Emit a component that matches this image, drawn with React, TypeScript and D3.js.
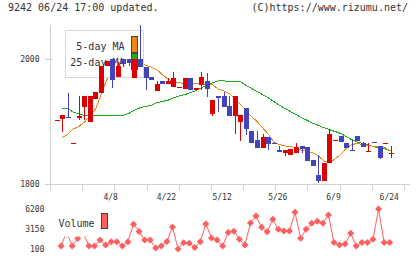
import React, { useEffect, useRef } from 'react';
import * as d3 from 'd3';

// header texts
const title = '9242 06/24 17:00 updated.';
const credit = '(C)https://www.rizumu.net/';

// daily prices, day 0 .. day 60
const openP = [1902, 1904, 1907, 1865, 1905, 1923, 1900, 1936, 1946, 1989,
  2000, 1971, 2000, 2000, 1969, 2000, 1987, 1971, 1949, 1965,
  1960, 1955, 1955, 1952, 1970, 1950, 1958, 1965, 1912, 1941,
  1941, 1925, 1909, 1900, 1922, 1885, 1870, 1857, 1876, 1866,
  1854, 1849, 1846, 1849, 1861, 1860, 1838, 1814, 1805, 1833,
  1869, 1877, 1865, 1855, 1877, 1865, 1852, 1867, 1861, 1864, 1848];
const highP = [1903, 1910, 1946, 1866, 1941, 1941, 1941, 1948, 1989, 1997,
  2000, 1995, 2000, 2000, 2000, 2054, 1987, 1971, 1965, 1965,
  1970, 1979, 1956, 1970, 1970, 1954, 1979, 1978, 1934, 1941,
  1948, 1941, 1941, 1910, 1922, 1885, 1885, 1880, 1876, 1866,
  1861, 1854, 1856, 1866, 1861, 1860, 1838, 1846, 1833, 1888,
  1870, 1877, 1865, 1870, 1877, 1868, 1866, 1867, 1861, 1865, 1861];
const lowP = [1902, 1884, 1905, 1865, 1902, 1902, 1900, 1936, 1946, 1989,
  1953, 1971, 1988, 1989, 1969, 1987, 1950, 1966, 1949, 1960,
  1960, 1955, 1955, 1952, 1950, 1950, 1950, 1940, 1909, 1916,
  1924, 1909, 1880, 1869, 1878, 1865, 1857, 1857, 1854, 1864,
  1851, 1845, 1846, 1849, 1849, 1837, 1829, 1802, 1805, 1833,
  1869, 1868, 1857, 1854, 1869, 1860, 1852, 1865, 1840, 1864, 1841];
const closeP = [1903, 1910, 1905, 1866, 1909, 1941, 1941, 1948, 1989, 1997,
  1966, 1989, 1992, 1994, 2000, 1987, 1969, 1966, 1960, 1960,
  1965, 1970, 1956, 1970, 1950, 1954, 1972, 1952, 1934, 1938,
  1924, 1909, 1941, 1910, 1888, 1865, 1857, 1876, 1864, 1864,
  1851, 1854, 1856, 1860, 1856, 1837, 1829, 1805, 1833, 1880,
  1870, 1868, 1857, 1854, 1869, 1860, 1853, 1865, 1842, 1865, 1849];

// moving averages as drawn (no value on day 0)
const ma5 = [null, 1874, 1879, 1888, 1892, 1899, 1909, 1920, 1942, 1966,
  1984, 1992, 1996, 1997, 1996, 1995, 1990, 1987, 1983, 1975,
  1968, 1964, 1962, 1961, 1961, 1961, 1960, 1960, 1959, 1952,
  1949, 1945, 1936, 1928, 1918, 1908, 1900, 1890, 1880, 1867,
  1863, 1861, 1860, 1858, 1854, 1852, 1850, 1845, 1837, 1834,
  1840, 1847, 1857, 1863, 1865, 1863, 1862, 1860, 1859, 1858, 1853];
const ma25 = [null, 1921, 1921, 1915, 1912, 1910, 1910, 1910, 1910, 1910,
  1910, 1910, 1910, 1913, 1918, 1922, 1924, 1926, 1930, 1932,
  1934, 1938, 1941, 1943, 1946, 1949, 1954, 1958, 1962, 1965,
  1965, 1964, 1964, 1964, 1958, 1953, 1948, 1943, 1938, 1932,
  1926, 1921, 1916, 1911, 1906, 1902, 1897, 1894, 1890, 1887,
  1884, 1881, 1876, 1871, 1867, 1865, 1862, 1860, 1857, 1856, 1853];

// volume (no value on day 0)
const volume = [null, 560, 2690, 560, 1700, 2540, 560, 560, 1470, 710, 1210,
  1210, 560, 1210, 3880, 2770, 1470, 1470, 250, 560, 1240,
  3450, 100, 1060, 970, 330, 1210, 3910, 1780, 1470, 560,
  2620, 2810, 1590, 710, 4070, 5130, 3410, 2740, 4640, 3100,
  2850, 2850, 5700, 1730, 3100, 4020, 4320, 4020, 5290, 1090,
  710, 860, 2490, 560, 1090, 1090, 1590, 6200, 1090, 1090];

const dateLabels = ['4/8', '4/22', '5/12', '5/26', '6/9', '6/24'];
const dateLabelDays = [10, 20, 30, 40, 50, 60];
const priceTicks = [1800, 2000];
const volumeTicks = [100, 3150, 6200];

const App = () => {
  const ref = useRef<SVGSVGElement>(null);

  useEffect(() => {
    const svg = d3.select(ref.current);
    svg.selectAll('*').remove();

    const font = 'DejaVu Sans Mono, monospace';
    const red = '#dd0000';
    const blue = '#4343bb';
    const orange = '#ee8811';
    const green = '#22aa22';
    const volColor = '#ff5e5e';
    const days = d3.range(openP.length);

    // scales
    const x = d3.scaleLinear().domain([0, 60]).range([56.5, 390.7]);
    const y = d3.scaleLinear().domain([1800, 2000]).range([184, 59]);
    const yVol = d3.scaleLinear().domain([100, 6200]).range([249, 209]);
    const grid = d3.scaleLinear().domain([0, 11]).range([50, 404]);

    // header
    svg.append('text').attr('x', 8).attr('y', 11)
      .attr('font-family', font).attr('font-size', 10).attr('fill', '#333')
      .text(title);
    svg.append('text').attr('x', 408).attr('y', 11).attr('text-anchor', 'end')
      .attr('font-family', font).attr('font-size', 10).attr('fill', '#333')
      .text(credit);

    // axes
    const axis = svg.append('g').attr('stroke', '#d0d0d0').attr('shape-rendering', 'crispEdges');
    axis.append('line').attr('x1', 50.5).attr('x2', 50.5).attr('y1', 25).attr('y2', 190);
    axis.append('line').attr('x1', 45).attr('x2', 410).attr('y1', 184.5).attr('y2', 184.5);
    axis.selectAll('.vt').data(d3.range(12)).enter().append('line')
      .attr('x1', i => Math.round(grid(i)) + 0.5).attr('x2', i => Math.round(grid(i)) + 0.5)
      .attr('y1', 184).attr('y2', 190);
    axis.selectAll('.ht').data(priceTicks).enter().append('line')
      .attr('x1', 45).attr('x2', 53).attr('y1', d => Math.round(y(d)) + 0.5).attr('y2', d => Math.round(y(d)) + 0.5);

    svg.append('g').selectAll('text').data(priceTicks).enter().append('text')
      .attr('x', 39.5).attr('y', d => y(d) + 3).attr('text-anchor', 'end')
      .attr('font-family', font).attr('font-size', 8).attr('fill', '#333')
      .text(d => d);

    svg.append('g').selectAll('text').data(dateLabels).enter().append('text')
      .attr('x', (d, i) => x(dateLabelDays[i]) - 1.5).attr('y', 200).attr('text-anchor', 'middle')
      .attr('font-family', font).attr('font-size', 8).attr('fill', '#333')
      .text(d => d);

    svg.append('g').selectAll('text').data(volumeTicks).enter().append('text')
      .attr('x', 44.5).attr('y', d => yVol(d) + 3).attr('text-anchor', 'end')
      .attr('font-family', font).attr('font-size', 8).attr('fill', '#333')
      .text(d => d);

    // moving averages
    const maLine = (arr: (number | null)[]) => d3.line<number>()
      .defined(i => arr[i] != null)
      .x(i => x(i))
      .y(i => y(arr[i] as number));
    svg.append('path').attr('d', maLine(ma25)(days)).attr('fill', 'none')
      .attr('stroke', green).attr('stroke-width', 1).attr('shape-rendering', 'crispEdges');
    svg.append('path').attr('d', maLine(ma5)(days)).attr('fill', 'none')
      .attr('stroke', orange).attr('stroke-width', 1).attr('shape-rendering', 'crispEdges');

    // legend
    const legend = svg.append('g');
    legend.append('rect').attr('x', 65.5).attr('y', 30.5).attr('width', 78).attr('height', 47)
      .attr('fill', '#fff').attr('stroke', '#d8d8d8');
    legend.append('text').attr('x', 124.5).attr('y', 49.5).attr('text-anchor', 'end')
      .attr('font-family', font).attr('font-size', 10).attr('fill', '#333').text('5-day MA');
    legend.append('text').attr('x', 124.5).attr('y', 66).attr('text-anchor', 'end')
      .attr('font-family', font).attr('font-size', 10).attr('fill', '#333').text('25-day MA');
    legend.append('rect').attr('x', 131.5).attr('y', 36.5).attr('width', 6).attr('height', 16)
      .attr('fill', orange).attr('stroke', '#444');
    legend.append('rect').attr('x', 131.5).attr('y', 53.5).attr('width', 6).attr('height', 16)
      .attr('fill', green).attr('stroke', '#444');

    // candles
    const candles = svg.append('g').attr('shape-rendering', 'crispEdges');
    const col = (i: number) => closeP[i] >= openP[i] ? red : blue;
    candles.selectAll('line').data(days).enter().append('line')
      .attr('x1', i => Math.round(x(i)) + 0.5).attr('x2', i => Math.round(x(i)) + 0.5)
      .attr('y1', i => y(highP[i])).attr('y2', i => y(lowP[i]))
      .attr('stroke', col);
    candles.selectAll('rect').data(days).enter().append('rect')
      .attr('x', i => Math.round(x(i)) - 2)
      .attr('width', 5)
      .attr('y', i => y(Math.max(openP[i], closeP[i])))
      .attr('height', i => Math.max(1, Math.abs(y(openP[i]) - y(closeP[i]))))
      .attr('fill', col);

    // volume
    const volDays = days.filter(i => volume[i] != null);
    svg.append('path')
      .attr('d', d3.line<number>().x(i => x(i) - 1).y(i => yVol(volume[i] as number))(volDays))
      .attr('fill', 'none').attr('stroke', volColor).attr('stroke-width', 1);
    svg.append('g').selectAll('path').data(volDays).enter().append('path')
      .attr('d', 'M0,-3.5L3.5,0L0,3.5L-3.5,0Z')
      .attr('transform', i => `translate(${x(i) - 1},${yVol(volume[i] as number)})`)
      .attr('fill', volColor);

    const volLegend = svg.append('g');
    volLegend.append('rect').attr('x', 53).attr('y', 205).attr('width', 60).attr('height', 31.5)
      .attr('fill', '#fff');
    volLegend.append('text').attr('x', 58.5).attr('y', 226.5)
      .attr('font-family', font).attr('font-size', 10).attr('fill', '#333').text('Volume');
    volLegend.append('rect').attr('x', 101.5).attr('y', 213.5).attr('width', 6).attr('height', 15)
      .attr('fill', volColor).attr('stroke', '#444');
  }, []);

  return (
    <svg ref={ref} width={420} height={259}
      style={{ position: 'absolute', left: 0, top: 0, background: '#fff' }} />
  );
};

export default App;
